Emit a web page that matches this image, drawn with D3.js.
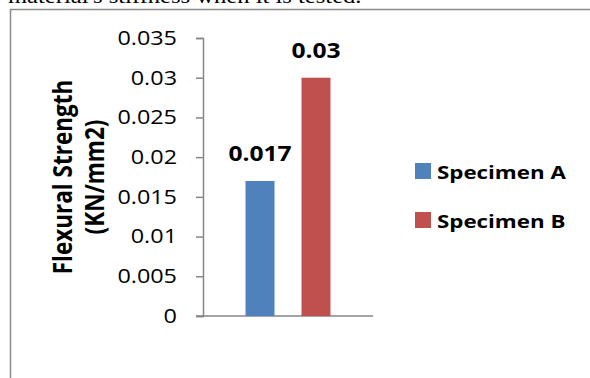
<!DOCTYPE html>
<html>
<head>
<meta charset="utf-8">
<script src="https://cdn.jsdelivr.net/npm/d3@7"></script>
<style>
  html, body { margin: 0; padding: 0; background: #fff; }
  svg { display: block; }
</style>
</head>
<body>
<svg id="chart" width="590" height="378"></svg>
<script>
// ---- data ----
const categories = ["Flexural Strength"];
const seriesNames = ["Specimen A", "Specimen B"];
const seriesValues = [0.017, 0.03];
const valueLabels = ["0.017", "0.03"];
const tickValues = [0, 0.005, 0.01, 0.015, 0.02, 0.025, 0.03, 0.035];
const tickLabels = ["0", "0.005", "0.01", "0.015", "0.02", "0.025", "0.03", "0.035"];
const seriesColors = ["#4F81BD", "#C0504D"];
const yTitleLines = ["Flexural Strength", "(KN/mm2)"];
const topText = "material's stiffness when it is tested.";

// ---- layout ----
const SX = 1.2; // horizontal stretch of the original picture
const svg = d3.select("#chart");
const plot = { left: 203, right: 373, top: 38, bottom: 316 };

function stretchedText(parent, x, yy, str, opts) {
  const g = parent.append("g")
    .attr("transform", `translate(${x},${yy}) scale(${SX},1)` + (opts.rotate ? ` rotate(${opts.rotate})` : ""));
  const t = g.append("text")
    .attr("x", 0).attr("y", 0)
    .attr("text-anchor", opts.anchor || "start")
    .attr("font-family", opts.family || "Open Sans, sans-serif")
    .attr("font-size", opts.size)
    .attr("font-weight", opts.weight || "normal")
    .attr("fill", "#000")
    .text(str);
  if (opts.dy) t.attr("dy", opts.dy);
  return t;
}

// partial text at top (cut off by the picture's top edge, as in the original)
stretchedText(svg, 8, 2.5, topText,
  { family: "Liberation Serif, Times New Roman, serif", size: 20.5 });

// chart frame (extends past the window on right / bottom)
svg.append("rect")
  .attr("x", 10.5).attr("y", 9.5)
  .attr("width", 700).attr("height", 500)
  .attr("fill", "#fff")
  .attr("stroke", "#8a8a8a")
  .attr("stroke-width", 1.5);

const y = d3.scaleLinear().domain([0, 0.035]).range([plot.bottom, plot.top]);
const x0 = d3.scaleBand().domain(categories).range([plot.left, plot.right])
  .paddingInner(0).paddingOuter(0.5);
const x1 = d3.scaleBand().domain(seriesNames).range([0, x0.bandwidth()])
  .paddingInner(0.482).paddingOuter(0);

// y axis
const yAxis = d3.axisLeft(y).tickValues(tickValues).tickSize(7).tickFormat(() => "");
const gy = svg.append("g").attr("transform", `translate(${plot.left},0)`).call(yAxis);
gy.select(".domain").attr("stroke", "#868686").attr("stroke-width", 1.5);
gy.selectAll(".tick line").attr("stroke", "#868686").attr("stroke-width", 1.5);

tickValues.forEach((v, i) => {
  stretchedText(svg, plot.left - 26, y(v), tickLabels[i],
    { anchor: "end", size: 19.5, dy: "0.35em" });
});

// x axis line
svg.append("line")
  .attr("x1", plot.left - 7).attr("x2", plot.right)
  .attr("y1", y(0)).attr("y2", y(0))
  .attr("stroke", "#868686").attr("stroke-width", 1.5);

// bars
const groups = svg.append("g");
seriesNames.forEach((s, i) => {
  const bx = x0(categories[0]) + x1(s);
  groups.append("rect")
    .attr("x", bx)
    .attr("y", y(seriesValues[i]))
    .attr("width", x1.bandwidth())
    .attr("height", y(0) - y(seriesValues[i]))
    .attr("fill", seriesColors[i]);
  stretchedText(svg, bx + x1.bandwidth() / 2, y(seriesValues[i]) - 20, valueLabels[i],
    { anchor: "middle", size: 20.5, weight: "bold" });
});

// y-axis title (two lines, rotated)
stretchedText(svg, 72, y(0.035 / 2), yTitleLines[0],
  { anchor: "middle", size: 22.5, weight: "bold", rotate: -90 });
stretchedText(svg, 104, y(0.035 / 2), yTitleLines[1],
  { anchor: "middle", size: 22.5, weight: "bold", rotate: -90 });

// legend
const legendY = [171, 220];
seriesNames.forEach((s, i) => {
  svg.append("rect")
    .attr("x", 415).attr("y", legendY[i] - 8)
    .attr("width", 16).attr("height", 16)
    .attr("fill", seriesColors[i]);
  stretchedText(svg, 437, legendY[i] + 8, s,
    { anchor: "start", size: 18.6, weight: "bold" });
});
</script>
</body>
</html>
